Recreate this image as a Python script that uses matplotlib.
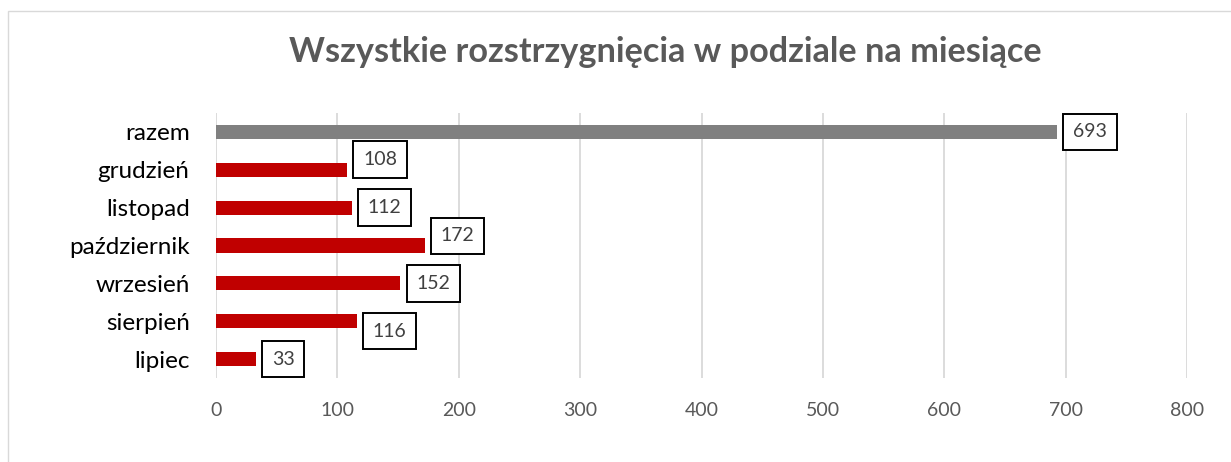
import matplotlib
matplotlib.use('Agg')
import matplotlib.pyplot as plt
from matplotlib.patches import Rectangle

# data, bottom to top as drawn
months = ['lipiec', 'sierpień', 'wrzesień', 'październik', 'listopad', 'grudzień', 'razem']
counts = [33, 116, 152, 172, 112, 108, 693]
bar_colors = ['#C00000'] * 6 + ['#808080']
xticks = [0, 100, 200, 300, 400, 500, 600, 700, 800]
# Excel nudged some labels up/down to avoid overlap (points)
label_dy = [0, -7.2, 0, 7, 0, 7.5, 0]

plt.rcParams['font.family'] = ['Lato', 'DejaVu Sans']

W, H = 1231, 462
fig = plt.figure(figsize=(W / 100, H / 100), dpi=100)
fig.patches.append(Rectangle((8 / W, -0.1), 1.2, 1.1 - 11 / H, transform=fig.transFigure,
                             fill=False, edgecolor='#D9D9D9', lw=1))

ax = fig.add_axes([216 / W, 1 - 378 / H, (1187 - 216) / W, (378 - 113) / H])
ypos = list(range(len(months)))
ax.barh(ypos, counts, height=0.37, color=bar_colors, zorder=3)
for y, v, dy in zip(ypos, counts, label_dy):
  ax.annotate(str(v), (v, y), xytext=(11.5, dy), textcoords='offset points',
              ha='left', va='center', fontsize=14, color='#404040', zorder=4,
              bbox=dict(boxstyle='square,pad=0.5', fc='white', ec='black', lw=1.4))

ax.set_xlim(0, 800)
ax.set_ylim(-0.5, len(months) - 0.5)
ax.set_xticks(xticks)
ax.set_yticks(ypos)
ax.set_yticklabels(months, fontsize=17.5, color='black')
ax.tick_params(axis='x', labelsize=14, labelcolor='#595959', length=0, pad=17)
ax.tick_params(axis='y', length=0, pad=19)
ax.grid(axis='x', color='#D9D9D9', lw=1.3, zorder=0)
for s in ax.spines.values():
  s.set_visible(False)

fig.text(665 / W, 1 - 52 / H, 'Wszystkie rozstrzygnięcia w podziale na miesiące',
         ha='center', va='center', fontsize=24.7, fontweight='bold', color='#595959')

fig.savefig('out.png', dpi=100)
